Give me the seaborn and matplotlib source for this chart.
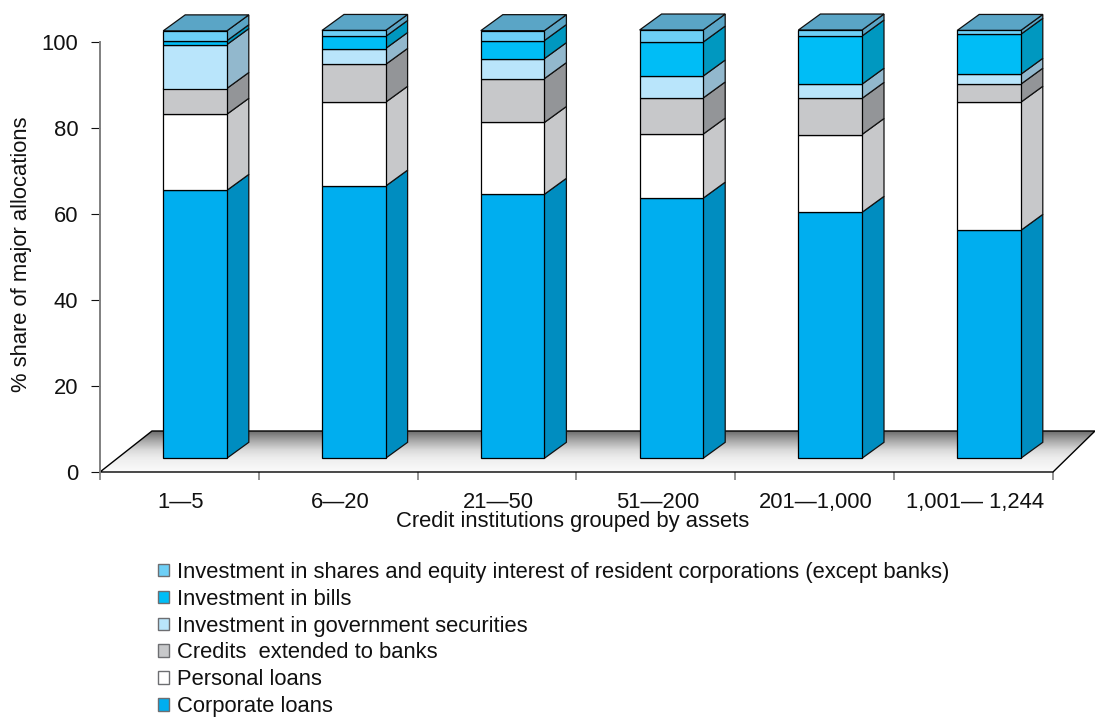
import numpy as np
import seaborn as sns
import matplotlib.pyplot as plt
from matplotlib.patches import Patch, Polygon

groups = ['1—5', '6—20', '21—50', '51—200', '201—1,000', '1,001— 1,244']
corporate = [62.3, 63.3, 61.4, 60.5, 57.2, 53.0]
personal = [17.7, 19.5, 16.7, 14.9, 18.1, 29.8]
credits_banks = [6.0, 8.8, 10.2, 8.4, 8.4, 4.2]
government = [10.2, 3.7, 4.65, 5.1, 3.3, 2.3]
bills = [0.9, 2.8, 4.2, 7.9, 11.2, 9.3]
shares = [2.3, 1.4, 2.3, 2.8, 1.4, 0.9]

names = ['Corporate loans', 'Personal loans', 'Credits  extended to banks',
         'Investment in government securities', 'Investment in bills',
         'Investment in shares and equity interest of resident corporations (except banks)']
series = [corporate, personal, credits_banks, government, bills, shares]
front_colors = ['#00aeef', '#ffffff', '#c7c8ca', '#b9e5fb', '#00bdf6', '#6dcff6']
side_colors = ['#008dc0', '#c7c8ca', '#939598', '#92b8cd', '#0098c0', '#5aa5c6']
top_color = '#5aa5c6'

sns.set_theme(style='white')
plt.rcParams['font.family'] = ['Liberation Sans', 'DejaVu Sans']

W, H = 1095, 717
fs = 15.8
fig = plt.figure(figsize=(W / 100, H / 100), dpi=100)
ax = fig.add_axes([100 / W, (H - 472) / H, 953 / W, 430 / H])

# pixel sizes turned into data units
px_x = 1 / 158.8
px_y = 1 / 4.3
base = 13.7 * px_y
dx = 22 * px_x
dy = 16 * px_y
bar_w = 63.6 * px_x
xlim = (-95 * px_x, 858 * px_x)

# stacked front faces
bottom = np.full(len(groups), base)
for vals, col, side_col in zip(series, front_colors, side_colors):
    sns.barplot(x=groups, y=vals, bottom=bottom, color=col, saturation=1, width=bar_w,
                edgecolor='black', linewidth=0.9, zorder=3, clip_on=False, ax=ax)
    # side faces
    for i in range(len(groups)):
        xr = i + bar_w / 2
        y0, y1 = bottom[i], bottom[i] + vals[i]
        ax.add_patch(Polygon([(xr, y0), (xr + dx, y0 + dy), (xr + dx, y1 + dy), (xr, y1)],
                             facecolor=side_col, edgecolor='#111111',
                             linewidth=0.9, zorder=2.5, clip_on=False))
    bottom = bottom + np.array(vals)

# top faces
for i in range(len(groups)):
    xl, xr = i - bar_w / 2, i + bar_w / 2
    top = bottom[i]
    ax.add_patch(Polygon([(xl, top), (xr, top), (xr + dx, top + dy), (xl + dx, top + dy)],
                         facecolor=top_color, edgecolor='#111111', linewidth=0.9,
                         zorder=2.6, clip_on=False))

# floor with gradient
floor_back = 41 * px_y
floor_pts = [(xlim[0], 0), (xlim[1], 0), (xlim[1] + 42 * px_x, floor_back),
             (xlim[0] + 52 * px_x, floor_back)]
grad = np.interp(np.linspace(0, 1, 64), [0, 0.22, 0.46, 0.66, 1],
                 [0.43, 0.65, 0.85, 0.93, 0.98]).reshape(-1, 1)
img = ax.imshow(grad, cmap='gray', vmin=0, vmax=1, aspect='auto', origin='upper',
                extent=(xlim[0], xlim[1] + 42 * px_x, 0, floor_back), zorder=1)
floor = Polygon(floor_pts, facecolor='none', edgecolor='black', linewidth=1.0, zorder=1.5, clip_on=False)
ax.add_patch(floor)
img.set_clip_path(floor)
img.set_clip_box(fig.bbox)

ax.set_xlim(*xlim)
ax.set_ylim(0, 100)

# ticks
ax.set_xticks([xlim[0] + 158.8 * px_x * i for i in range(7)])
ax.set_xticklabels([])
ax.set_xticks([i - 14 * px_x for i in range(len(groups))], labels=groups, minor=True)
ax.tick_params(axis='x', which='major', bottom=True, length=6, width=1.2, color='#808080')
ax.tick_params(axis='x', which='minor', bottom=True, length=0, pad=14.5, labelsize=fs, labelcolor='#111111')
ax.set_yticks([0, 20, 40, 60, 80, 100])
ax.tick_params(axis='y', left=True, length=6.5, width=0.8, color='#111111', pad=9,
               labelsize=fs, labelcolor='#111111')

sns.despine(ax=ax, top=True, right=True, bottom=True)
ax.spines['left'].set_color('#808080')
ax.spines['left'].set_linewidth(1.4)

ax.set_ylabel('% share of major allocations', fontsize=fs, color='#111111', va='center')
ax.yaxis.set_label_coords((22 - 100) / 953, (472 - 254) / 430)
ax.set_xlabel('Credit institutions grouped by assets', fontsize=fs, color='#111111', va='center')
ax.xaxis.set_label_coords((573 - 100) / 953, (472 - 522) / 430)

# legend, reversed
handles = [Patch(facecolor=c, edgecolor='#6d6e71', linewidth=1.0, label=n)
           for c, n in zip(front_colors, names)][::-1]
fig.legend(handles=handles, loc='upper left', bbox_to_anchor=(158 / W, (H - 562) / H),
           frameon=False, fontsize=fs, labelcolor='#111111', handlelength=0.5,
           handleheight=0.5, handletextpad=0.38, labelspacing=0.265, borderpad=0, borderaxespad=0)

fig.savefig('out.png', dpi=100)
